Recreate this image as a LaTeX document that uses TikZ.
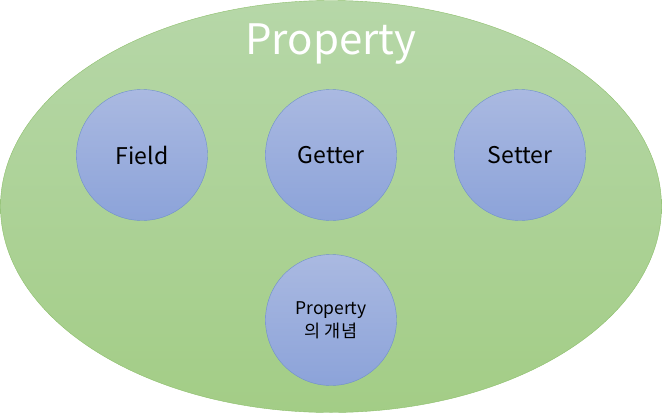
\documentclass[tikz,border=0pt]{standalone}
\usepackage{fontspec}
\setmainfont{Noto Sans CJK KR}
\usepackage{tikz}
\usetikzlibrary{shapes.geometric}
\definecolor{greentop}{HTML}{B6D7A8}
\definecolor{greenbot}{HTML}{A3CD86}
\definecolor{greenline}{HTML}{8DBF6C}
\definecolor{bluetop}{HTML}{AAB9E1}
\definecolor{bluebot}{HTML}{8CA3D9}
\definecolor{blueline}{HTML}{7090CC}

\begin{document}
\begin{tikzpicture}[x=1pt, y=-1pt, node distance={189pt},
    main/.style = {draw=blueline, circle, minimum size=131pt, inner sep=0pt,
                   top color=bluetop, bottom color=bluebot, font=\fontsize{23}{27}\selectfont},
    outer/.style = {draw=greenline, ellipse, minimum width=661pt, minimum height=412pt,
                    top color=greentop, bottom color=greenbot}]
            \useasboundingbox (0,0) rectangle (662,413);

            \node[outer] (prop) at (331,206.5) {};
            \node[text=white, font=\fontsize{42}{46}\selectfont] (title) at (331,44) {Property};

            \node[main] (getter) at (331,155) {Getter};
            \node[main] (field) [left of=getter] {Field};
            \node[main] (setter) [right of=getter] {Setter};

            \node[main, align=center, font=\fontsize{17.5}{23}\selectfont] (concept) [below of=getter, node distance=165pt] {Property\\의 개념};
        \end{tikzpicture}
\end{document}
